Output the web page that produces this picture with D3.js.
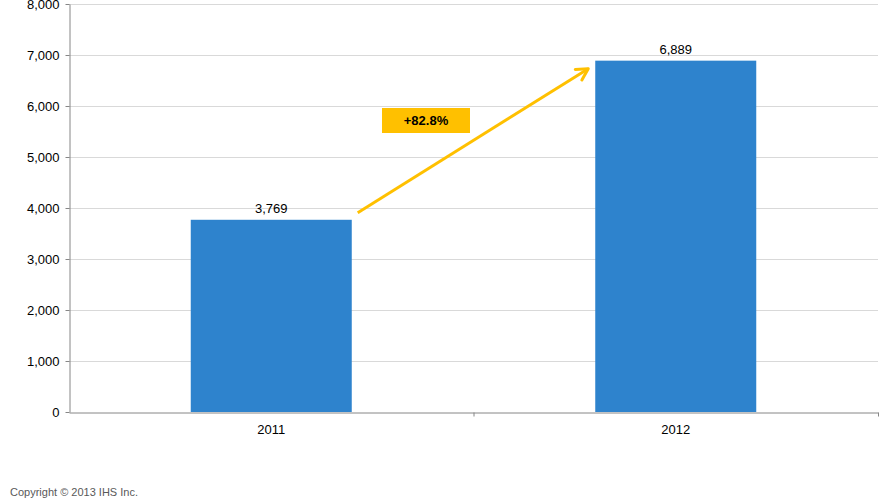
<!DOCTYPE html>
<html>
<head>
<meta charset="utf-8">
<script src="https://cdn.jsdelivr.net/npm/d3@7"></script>
<style>
  body { margin: 0; background: #fff; }
  text { font-family: "Liberation Sans", Arial, sans-serif; }
</style>
</head>
<body>
<svg id="chart"></svg>
<script>
const years = ["2011", "2012"];
const values = [3769, 6889];
const yTicks = [0, 1000, 2000, 3000, 4000, 5000, 6000, 7000, 8000];
const growthLabel = "+82.8%";
const footnote = "Copyright © 2013 IHS Inc.";

const width = 895;
const height = 502;
const plotLeft = 69;
const plotRight = 878;
const plotTop = 4;
const plotBottom = 412;

const svg = d3.select("#chart")
  .attr("width", width)
  .attr("height", height);

// scales
const xScale = d3.scaleBand()
  .domain(years)
  .range([plotLeft, plotRight])
  .paddingInner(0)
  .paddingOuter(0);
const barWidth = 161;
const yScale = d3.scaleLinear()
  .domain([0, 8000])
  .range([plotBottom, plotTop]);

// gridlines
svg.append("g")
  .selectAll("line")
  .data(yTicks.slice(1))
  .enter()
  .append("line")
  .attr("x1", plotLeft)
  .attr("x2", plotRight)
  .attr("y1", d => Math.round(yScale(d)) + 0.5)
  .attr("y2", d => Math.round(yScale(d)) + 0.5)
  .attr("stroke", "#d9d9d9")
  .attr("stroke-width", 1);

// y axis
const yAxis = d3.axisLeft(yScale)
  .tickValues(yTicks)
  .tickFormat(d3.format(","))
  .tickSizeInner(4)
  .tickSizeOuter(0)
  .tickPadding(6);
const yG = svg.append("g")
  .attr("transform", `translate(${plotLeft + 0.5}, 0)`)
  .call(yAxis);
yG.select(".domain").attr("stroke", "#868686");
yG.selectAll(".tick line").attr("stroke", "#868686");
yG.selectAll(".tick text")
  .attr("font-size", 13)
  .attr("fill", "#000")
  .style("font-family", "'Liberation Sans', Arial, sans-serif");

// bars
svg.append("g")
  .selectAll("rect")
  .data(values)
  .enter()
  .append("rect")
  .attr("x", (d, i) => xScale(years[i]) + xScale.bandwidth() / 2 - barWidth / 2)
  .attr("y", d => yScale(d))
  .attr("width", barWidth)
  .attr("height", d => plotBottom - yScale(d))
  .attr("fill", "#2e83cd");

// value labels
svg.append("g")
  .selectAll("text")
  .data(values)
  .enter()
  .append("text")
  .attr("x", (d, i) => xScale(years[i]) + xScale.bandwidth() / 2)
  .attr("y", d => yScale(d) - 7)
  .attr("text-anchor", "middle")
  .attr("font-size", 13)
  .attr("fill", "#000")
  .text(d => d3.format(",")(d));

// x axis
const xAxis = d3.axisBottom(xScale)
  .tickSize(0)
  .tickPadding(12);
const xG = svg.append("g")
  .attr("transform", `translate(0, ${plotBottom + 0.5})`)
  .call(xAxis);
xG.select(".domain").attr("stroke", "#868686");
xG.selectAll(".tick text")
  .attr("font-size", 13)
  .attr("fill", "#000")
  .style("font-family", "'Liberation Sans', Arial, sans-serif");
// category separators
xG.selectAll(".sep")
  .data(years)
  .enter()
  .append("line")
  .attr("x1", (d, i) => xScale(d) + xScale.bandwidth() + 0.5)
  .attr("x2", (d, i) => xScale(d) + xScale.bandwidth() + 0.5)
  .attr("y1", 0)
  .attr("y2", 4)
  .attr("stroke", "#868686");

// growth arrow
const arrowStart = [xScale("2011") + xScale.bandwidth() / 2 + barWidth / 2 + 6, yScale(values[0]) - 7];
const arrowEnd = [xScale("2012") + xScale.bandwidth() / 2 - barWidth / 2 - 7, yScale(values[1]) + 8];
svg.append("line")
  .attr("x1", arrowStart[0])
  .attr("y1", arrowStart[1])
  .attr("x2", arrowEnd[0])
  .attr("y2", arrowEnd[1])
  .attr("stroke", "#ffc000")
  .attr("stroke-width", 3);
const ang = Math.atan2(arrowEnd[1] - arrowStart[1], arrowEnd[0] - arrowStart[0]);
const headLen = 13;
const headSpread = 0.5;
const p1 = [arrowEnd[0] - headLen * Math.cos(ang - headSpread), arrowEnd[1] - headLen * Math.sin(ang - headSpread)];
const p2 = [arrowEnd[0] - headLen * Math.cos(ang + headSpread), arrowEnd[1] - headLen * Math.sin(ang + headSpread)];
svg.append("path")
  .attr("d", `M${p1[0]},${p1[1]} L${arrowEnd[0]},${arrowEnd[1]} L${p2[0]},${p2[1]}`)
  .attr("fill", "none")
  .attr("stroke", "#ffc000")
  .attr("stroke-width", 3)
  .attr("stroke-linecap", "round")
  .attr("stroke-linejoin", "round");

// growth label box
svg.append("rect")
  .attr("x", 382)
  .attr("y", 108)
  .attr("width", 88)
  .attr("height", 25)
  .attr("fill", "#ffc000");
svg.append("text")
  .attr("x", 426)
  .attr("y", 125)
  .attr("text-anchor", "middle")
  .attr("font-size", 13)
  .attr("font-weight", "bold")
  .attr("fill", "#000")
  .text(growthLabel);

// footnote
svg.append("text")
  .attr("x", 10)
  .attr("y", 496)
  .attr("font-size", 11)
  .attr("fill", "#595959")
  .text(footnote);
</script>
</body>
</html>
